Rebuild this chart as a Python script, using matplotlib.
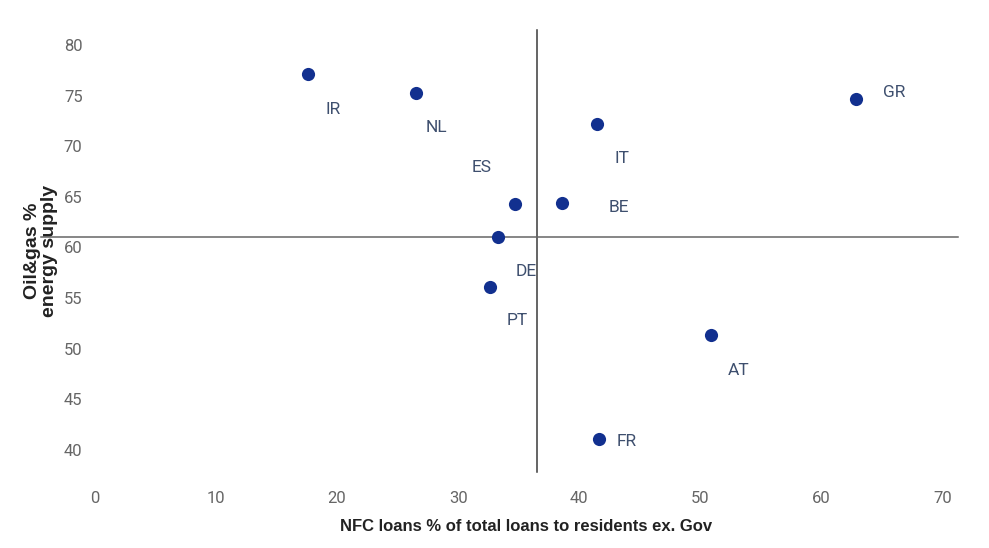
#!/usr/bin/env python3
"""Scatter: oil & gas share of energy supply vs NFC loan share, euro area countries."""

import matplotlib

matplotlib.use("Agg")

import matplotlib.pyplot as plt

countries = ["IR", "NL", "ES", "BE", "DE", "PT", "IT", "GR", "AT", "FR"]
nfc_loans = [17.6, 26.5, 34.7, 38.6, 33.3, 32.6, 41.5, 62.9, 50.9, 41.6]
oil_gas = [77.1, 75.3, 64.3, 64.4, 61.0, 56.1, 72.2, 74.7, 51.3, 41.1]

x_ref = 36.5
y_ref = 61.0

x_ticks = [0, 10, 20, 30, 40, 50, 60, 70]
y_ticks = [40, 45, 50, 55, 60, 65, 70, 75, 80]

# label offsets in pixels (dx right, dy down) from each point
label_offsets = {
    "IR": (25, 35), "NL": (21, 35), "ES": (-33, -36), "BE": (57, 5),
    "DE": (28, 34), "PT": (28, 34), "IT": (25, 34), "GR": (38, -6),
    "AT": (28, 35), "FR": (28, 3),
}

DOT = "#12308f"
LABEL = "#3e4f6e"
TICK = "#666666"


def main() -> None:
    fig = plt.figure(figsize=(9.89, 5.48), dpi=100)
    ax = fig.add_axes([0.0961, 0.1387, 0.8726, 0.8066])

    ax.set_xlim(0, 71.3)
    ax.set_ylim(37.8, 81.5)

    ax.scatter(nfc_loans, oil_gas, s=90, color=DOT, zorder=3, linewidths=0)

    for name, x, y in zip(countries, nfc_loans, oil_gas):
        dx, dy = label_offsets[name]
        ax.annotate(
            name, (x, y), xytext=(dx * 0.72, -dy * 0.72), textcoords="offset points",
            ha="center", va="center", fontsize=12.5, color=LABEL, family="Roboto",
        )

    ax.plot([x_ref, x_ref], [37.8, 81.5], color="#3a3a3a", lw=1.1, zorder=2, clip_on=False)
    ax.plot([-4.5, 71.3], [y_ref, y_ref], color="#666666", lw=1.1, zorder=2, clip_on=False)

    for side in ["top", "right", "left", "bottom"]:
        ax.spines[side].set_visible(False)

    ax.set_xticks(x_ticks)
    ax.set_yticks(y_ticks)
    ax.tick_params(axis="both", length=0, labelsize=12, labelcolor=TICK)
    ax.tick_params(axis="x", pad=14)
    ax.tick_params(axis="y", pad=9)
    for lbl in ax.get_xticklabels() + ax.get_yticklabels():
        lbl.set_family("Roboto")

    font = ["Liberation Sans", "DejaVu Sans"]
    ax.set_xlabel("NFC loans % of total loans to residents ex. Gov",
                  fontsize=12, fontweight="bold", family=font, color="#222222", labelpad=9)
    ax.set_ylabel("Oil&gas %\nenergy supply", fontsize=14, fontweight="bold",
                  family=font, color="#222222", labelpad=4, linespacing=1.0)

    fig.savefig("out.png", dpi=100)
    plt.close(fig)


if __name__ == "__main__":
    main()
